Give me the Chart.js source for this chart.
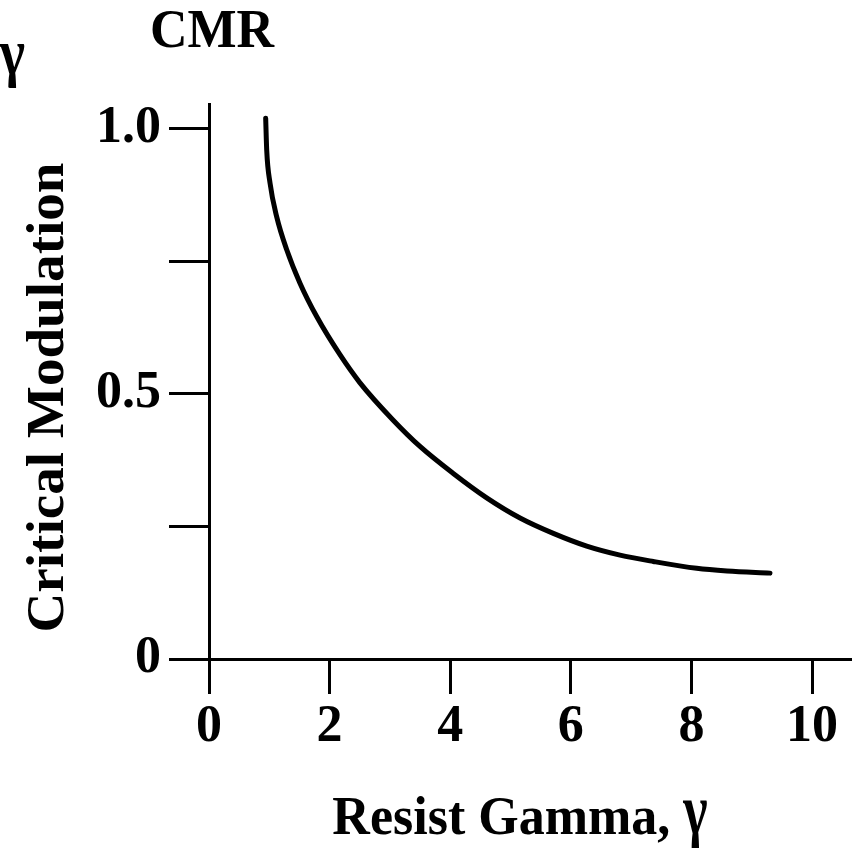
<!DOCTYPE html>
<html><head><meta charset="utf-8">
<script src="https://cdn.jsdelivr.net/npm/chart.js@4"></script>
<style>html,body{margin:0;padding:0;background:#fff}#wrap{width:857px;height:848px}</style>
</head><body><div id="wrap"><canvas id="c" width="857" height="848"></canvas></div>
<script>
// Data
const gammaValues      = [0.94, 0.957, 1.012, 1.123, 1.289, 1.509, 1.786, 2.172, 2.504, 3.051, 3.499, 4.051, 4.605, 5.158, 5.710, 6.264, 6.816, 7.368, 8.088, 8.59, 9.303];
const modulationValues = [1.02, 0.96, 0.898, 0.834, 0.772, 0.709, 0.646, 0.574, 0.521, 0.451, 0.401, 0.350, 0.304, 0.266, 0.237, 0.213, 0.196, 0.184, 0.171, 0.166, 0.162];
const xTickValues = [0, 2, 4, 6, 8, 10];
const xTickLabels = ['0', '2', '4', '6', '8', '10'];
const yTickValues = [0, 0.25, 0.5, 0.75, 1.0];
const yTickLabels = ['0', '', '0.5', '', '1.0'];
const titleText  = 'CMR';
const xTitleMain = 'Resist Gamma, ';
const gammaSymbol = '\u03B3';
const yTitleText = 'Critical Modulation';

const FONT = 'Liberation Serif';
const tickFont = { family: FONT, weight: 'bold', size: 52 };

const textPlugin = {
  id: 'texts',
  afterDraw(chart) {
    const ctx = chart.ctx;
    ctx.save();
    ctx.fillStyle = '#000';
    ctx.font = 'bold 52px "' + FONT + '"';
    ctx.textBaseline = 'alphabetic';
    ctx.textAlign = 'left';
    // title
    ctx.save(); ctx.translate(212, 47); ctx.scale(1, 1.06); ctx.textAlign = 'center'; ctx.fillText(titleText, 0, 0); ctx.restore();
    // corner gamma (cut at the left edge)
    ctx.save(); ctx.translate(25, 74); ctx.scale(1.05, 1.25); ctx.textAlign = 'right'; ctx.fillText(gammaSymbol, 0, 0); ctx.restore();
    // x title
    const wMain = ctx.measureText(xTitleMain).width;
    const wG = ctx.measureText(gammaSymbol).width;
    const x0 = 520 - (wMain + wG) / 2;
    ctx.save(); ctx.translate(x0, 834); ctx.scale(1, 1.06); ctx.fillText(xTitleMain, 0, 0); ctx.restore();
    ctx.save(); ctx.translate(x0 + wMain, 834); ctx.scale(1, 1.4); ctx.fillText(gammaSymbol, 0, 0); ctx.restore();
    // y title
    ctx.save(); ctx.translate(63, 397.5); ctx.rotate(-Math.PI / 2); ctx.scale(1.06, 1); ctx.textAlign = 'center'; ctx.fillText(yTitleText, 0, 0); ctx.restore();
    ctx.restore();
  }
};

new Chart(document.getElementById('c'), {
  type: 'line',
  data: {
    datasets: [{
      data: gammaValues.map((g, i) => ({ x: g, y: modulationValues[i] })),
      borderColor: '#000',
      borderWidth: 5,
      borderCapStyle: 'round',
      borderJoinStyle: 'round',
      pointRadius: 0,
      fill: false,
      cubicInterpolationMode: 'monotone'
    }]
  },
  options: {
    responsive: false,
    animation: false,
    devicePixelRatio: 1,
    layout: { padding: { top: 104, right: 7, left: 0, bottom: 0 } },
    plugins: { legend: { display: false }, tooltip: { enabled: false }, title: { display: false } },
    scales: {
      x: {
        type: 'linear', min: 0, max: 10.63,
        afterBuildTicks: s => { s.ticks = xTickValues.map(v => ({ value: v })); },
        afterFit: s => { s.height = 189; },
        ticks: { font: tickFont, color: '#000', padding: 2, maxRotation: 0, autoSkip: false,
                 callback: (v, i) => xTickLabels[i] },
        grid: { drawOnChartArea: false, tickLength: 35, tickWidth: 3, lineWidth: 3, color: '#000' },
        border: { display: true, color: '#000', width: 3 }
      },
      y: {
        type: 'linear', min: 0, max: 1.047,
        afterBuildTicks: s => { s.ticks = yTickValues.map(v => ({ value: v })); },
        afterFit: s => { s.width = 209; },
        ticks: { font: tickFont, color: '#000', padding: 8, autoSkip: false,
                 callback: (v, i) => yTickLabels[i] },
        grid: { drawOnChartArea: false, tickLength: 40, tickWidth: 3, lineWidth: 3, color: '#000' },
        border: { display: true, color: '#000', width: 3 }
      }
    }
  },
  plugins: [textPlugin]
});
</script></body></html>
